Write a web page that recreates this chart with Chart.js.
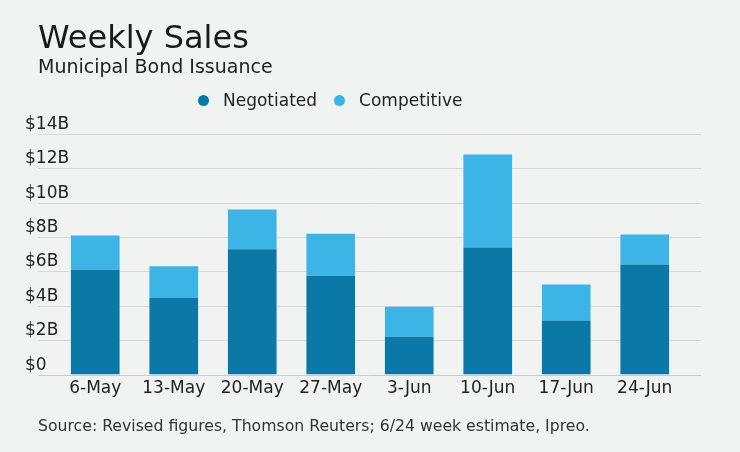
<!DOCTYPE html>
<html>
<head>
<meta charset="utf-8">
<script src="https://cdn.jsdelivr.net/npm/chart.js@4"></script>
<style>
    html, body { margin: 0; padding: 0; background: #f1f3f3; }
    #wrap { position: relative; width: 740px; height: 452px; overflow: hidden; font-family: "DejaVu Sans", Verdana, sans-serif; color: #222; }
    #chart { position: absolute; left: 0; top: 0; }
    .txt { position: absolute; white-space: nowrap; line-height: 1; }
    #title { left: 38px; top: 21px; font-size: 32px; color: #1a1a1a; }
    #subtitle { left: 38px; top: 57px; font-size: 19px; color: #222; }
    #legend { left: 198px; top: 92px; font-size: 17px; color: #222; }
    #legend span.item { margin-right: 17px; }
    #legend span.dot { display: inline-block; width: 11px; height: 11px; border-radius: 50%; margin-right: 14px; vertical-align: 0px; }
    #source { left: 38px; top: 418px; font-size: 15.7px; color: #333; }
</style>
</head>
<body>
<div id="wrap">
    <canvas id="chart" width="740" height="452"></canvas>
    <div class="txt" id="title">Weekly Sales</div>
    <div class="txt" id="subtitle">Municipal Bond Issuance</div>
    <div class="txt" id="legend"></div>
    <div class="txt" id="source">Source: Revised figures, Thomson Reuters; 6/24 week estimate, Ipreo.</div>
</div>
<script>
    // Weekly sales data (billions of dollars)
    const weeks = ['6-May', '13-May', '20-May', '27-May', '3-Jun', '10-Jun', '17-Jun', '24-Jun'];
    const negotiated = [6.1, 4.45, 7.3, 5.75, 2.2, 7.4, 3.15, 6.4];
    const competitive = [2.0, 1.85, 2.3, 2.45, 1.75, 5.4, 2.1, 1.75];
    const yTickValues = [0, 2, 4, 6, 8, 10, 12, 14];
    const yTickLabels = ['$0', '$2B', '$4B', '$6B', '$8B', '$10B', '$12B', '$14B'];

    const darkBlue = '#0b79a7';
    const lightBlue = '#3db4e6';

    // Grid lines and y labels drawn by hand so they can stick out past the bars
    const gridPlugin = {
        id: 'customGrid',
        beforeDatasetsDraw(chart) {
            const ctx = chart.ctx;
            const area = chart.chartArea;
            const yScale = chart.scales.y;
            ctx.save();
            yTickValues.forEach((v, i) => {
                const y = Math.round(yScale.getPixelForValue(v)) + 0.5;
                ctx.strokeStyle = v === 0 ? '#c9cccc' : '#d6d8d8';
                ctx.lineWidth = 1;
                ctx.beginPath();
                ctx.moveTo(area.left - 18, y);
                ctx.lineTo(area.right + 17, y);
                ctx.stroke();

                ctx.fillStyle = '#222';
                ctx.font = '17px "DejaVu Sans", Verdana, sans-serif';
                ctx.textAlign = 'left';
                ctx.textBaseline = 'alphabetic';
                ctx.fillText(yTickLabels[i], 25, y - 6);
            });
            ctx.restore();
        }
    };

    const ctx = document.getElementById('chart').getContext('2d');
    const salesChart = new Chart(ctx, {
        type: 'bar',
        data: {
            labels: weeks,
            datasets: [{
                label: 'Negotiated',
                data: negotiated,
                backgroundColor: darkBlue
            }, {
                label: 'Competitive',
                data: competitive,
                backgroundColor: lightBlue
            }]
        },
        options: {
            responsive: false,
            animation: false,
            layout: {
                padding: { left: 56, right: 56, top: 134, bottom: 49 }
            },
            datasets: {
                bar: {
                    categoryPercentage: 1,
                    barPercentage: 0.62
                }
            },
            scales: {
                x: {
                    stacked: true,
                    grid: { display: false, drawTicks: false },
                    border: { display: false },
                    ticks: {
                        padding: 4,
                        color: '#222',
                        font: { family: '"DejaVu Sans", Verdana, sans-serif', size: 17 }
                    }
                },
                y: {
                    stacked: true,
                    display: false,
                    min: 0,
                    max: 14
                }
            },
            plugins: {
                legend: { display: false },
                tooltip: { enabled: false }
            }
        },
        plugins: [gridPlugin]
    });

    // Build the legend from the datasets
    const legendBox = document.getElementById('legend');
    salesChart.data.datasets.forEach((ds) => {
        const item = document.createElement('span');
        item.className = 'item';
        const dot = document.createElement('span');
        dot.className = 'dot';
        dot.style.background = ds.backgroundColor;
        item.appendChild(dot);
        item.appendChild(document.createTextNode(ds.label));
        legendBox.appendChild(item);
    });
</script>
</body>
</html>
